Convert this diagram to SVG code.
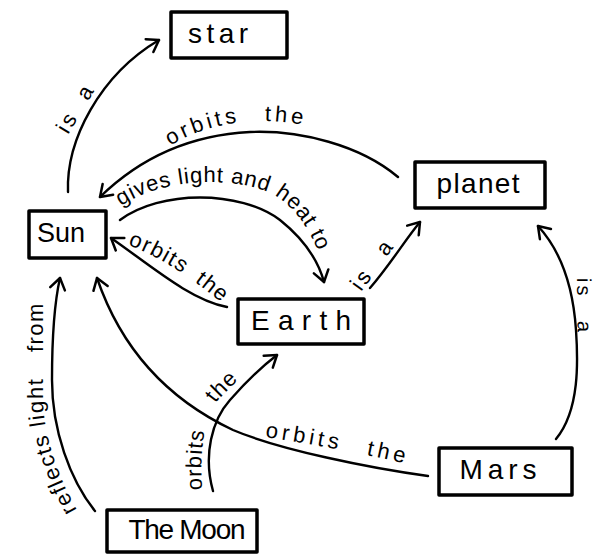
<svg xmlns="http://www.w3.org/2000/svg" width="595" height="555" viewBox="0 0 595 555">
<style>
.box{fill:#fff;stroke:#000;stroke-width:3.5;stroke-linejoin:round}
.nt{font-family:"Liberation Sans",Arial,sans-serif;font-size:28px;fill:#000;text-anchor:middle}
.edge{fill:none;stroke:#000;stroke-width:2.4;stroke-linecap:round;marker-end:url(#arr)}
.lbl{font-family:"Liberation Sans",Arial,sans-serif;font-size:22px;fill:#000;letter-spacing:2px}
</style>
<defs>
<marker id="arr" markerUnits="userSpaceOnUse" markerWidth="26" markerHeight="26" viewBox="-13 -13 26 26" refX="0" refY="0" orient="auto">
<path d="M-11,-7.5 L0,0 L-11,7.5" fill="none" stroke="#000" stroke-width="2.5" stroke-linecap="round" stroke-linejoin="round"/>
</marker>
<path id="p1" d="M68,135 L102,78"/>
<path id="p2" d="M170,146 Q232,108 320,128"/>
<path id="p3" d="M121,206 C160,180 225,175 268,192 C290,202 308,222 324,266"/>
<path id="p4" d="M128,245 Q175,262 230,310"/>
<path id="p5" d="M361,292 L402,236"/>
<path id="p6" d="M577,278 L578,350"/>
<path id="p7" d="M265,437 Q340,448 425,468"/>
<path id="p8" d="M202,490 C200,450 203,420 218,400 L258,360"/>
<path id="p9" d="M77,510 C60,480 44,440 43,400 L43,270"/>
</defs>
<rect width="595" height="555" fill="#fff"/>
<g id="connectors">
<path id="e-sun-star" class="edge" d="M68,192 C66,140 100,75 159,40"/>
<path id="e-planet-sun" class="edge" d="M398,177 C360,145 300,130 250,132 C190,135 140,158 100,197"/>
<path id="e-sun-earth" class="edge" d="M120,220 C160,190 240,190 280,220 C305,240 318,260 324,282"/>
<path id="e-earth-sun" class="edge" d="M227,307 C190,300 150,265 111,238"/>
<path id="e-earth-planet" class="edge" d="M370,288 C390,265 405,240 420,222"/>
<path id="e-mars-planet" class="edge" d="M556,439 C580,410 578,360 576,330 C573,285 560,250 538,226"/>
<path id="e-mars-sun" class="edge" d="M428,476 C370,468 280,450 233,430 C180,405 125,360 97,278"/>
<path id="e-moon-earth" class="edge" d="M213,491 C203,455 212,420 230,400 C245,383 260,368 277,355"/>
<path id="e-moon-sun" class="edge" d="M95,511 C70,480 52,430 52,380 C52,330 55,300 60,278"/>
<text class="lbl" style="letter-spacing:3px;word-spacing:8px"><textPath href="#p1">is a</textPath></text>
<text class="lbl" style="letter-spacing:3.5px;word-spacing:15px"><textPath href="#p2">orbits the</textPath></text>
<text class="lbl" style="letter-spacing:0.8px"><textPath href="#p3">gives light and heat to</textPath></text>
<text class="lbl" style="letter-spacing:1.5px;word-spacing:6px"><textPath href="#p4">orbits the</textPath></text>
<text class="lbl" style="letter-spacing:3px;word-spacing:12px"><textPath href="#p5">is a</textPath></text>
<text class="lbl" style="font-size:20px;letter-spacing:3px;word-spacing:14px"><textPath href="#p6">is a</textPath></text>
<text class="lbl" style="letter-spacing:4px;word-spacing:15px"><textPath href="#p7">orbits the</textPath></text>
<text class="lbl" style="letter-spacing:1px;word-spacing:22px"><textPath href="#p8">orbits the</textPath></text>
<text class="lbl" style="letter-spacing:1.5px"><textPath href="#p9">reflects light <tspan dx="18">from</tspan></textPath></text>
</g>
<g id="star"><rect class="box" x="171" y="12" width="116" height="46"/><text class="nt" x="218" y="43" textLength="60" lengthAdjust="spacing">star</text></g>
<g id="sun"><rect class="box" x="29" y="211" width="77" height="47"/><text class="nt" x="61" y="242" style="font-size:27px">Sun</text></g>
<g id="planet"><rect class="box" x="415" y="162" width="130" height="46"/><text class="nt" x="478" y="193" textLength="83" lengthAdjust="spacing">planet</text></g>
<g id="earth"><rect class="box" x="238" y="299" width="126" height="45"/><text class="nt" x="301" y="330" textLength="100" lengthAdjust="spacing">Earth</text></g>
<g id="mars"><rect class="box" x="439" y="448" width="133" height="47"/><text class="nt" x="498" y="479" textLength="77" lengthAdjust="spacing">Mars</text></g>
<g id="moon"><rect class="box" x="107" y="510" width="150" height="42"/><text class="nt" x="187" y="539" textLength="117" lengthAdjust="spacing">The Moon</text></g>
</svg>
